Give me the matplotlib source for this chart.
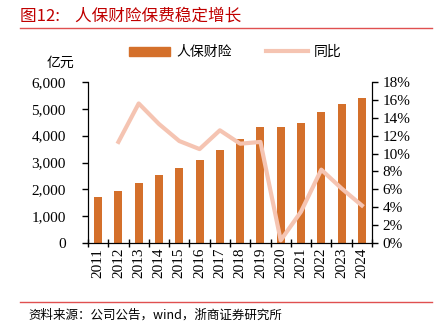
import numpy as np
import matplotlib.pyplot as plt
from matplotlib.lines import Line2D
from matplotlib.patches import Patch

plt.rcParams['font.family'] = ['Liberation Serif', 'Noto Sans CJK SC']

years = ['2011', '2012', '2013', '2014', '2015', '2016', '2017',
         '2018', '2019', '2020', '2021', '2022', '2023', '2024']
premium = [1720, 1920, 2230, 2520, 2800, 3100, 3480,
           3880, 4320, 4320, 4480, 4870, 5180, 5400]
yoy = [np.nan, 11.3, 15.6, 13.3, 11.4, 10.5, 12.6,
       11.1, 11.3, 0.3, 3.5, 8.2, 6.1, 4.2]

bar_c = '#D4702B'
line_c = '#F5C4B2'
red = '#C00000'
cjk = ['Noto Sans CJK SC', 'DejaVu Sans']

fig = plt.figure(figsize=(4.38, 3.29), dpi=100)
ax = fig.add_axes([88/438, 1-243/329, (372-88)/438, (243-82)/329])
x = np.arange(len(years))
ax.bar(x, premium, width=0.4, color=bar_c, zorder=2)
ax.set_xlim(-0.5, len(years) - 0.5)
ax.set_ylim(0, 6000)
ax.set_yticks(range(0, 6001, 1000))
ax.set_yticklabels([f'{v:,}' for v in range(0, 6001, 1000)], fontsize=11)
ax.set_xticks(x)
ax.set_xticklabels(years, rotation=90, fontsize=11)
ax.set_xticks(np.arange(-0.5, len(years)), minor=True)
ax.tick_params(axis='x', which='major', length=0)
ax.tick_params(axis='x', which='minor', length=6, direction='inout', width=1)
ax.tick_params(axis='y', length=4, width=1, pad=12)
ax.spines['top'].set_visible(False)

ax2 = ax.twinx()
ax2.plot(x, yoy, color=line_c, lw=3, zorder=3)
ax2.set_ylim(0, 18)
ax2.set_yticks(range(0, 19, 2))
ax2.set_yticklabels([f'{v}%' for v in range(0, 19, 2)], fontsize=11)
ax2.tick_params(axis='y', length=4, width=1)
ax2.spines['top'].set_visible(False)

fig.text(60/438, 1-63/329, '亿元', fontsize=10, family=cjk, ha='center', va='center')

handles = [Patch(color=bar_c), Line2D([0], [0], color=line_c, lw=3)]
fig.legend(handles, ['人保财险', '同比'], loc='center', bbox_to_anchor=(235/438, 1-52/329),
           ncol=2, frameon=False, prop={'family': cjk, 'size': 10},
           handlelength=3, handleheight=0.6, columnspacing=2.5, handletextpad=0.4)

fig.text(20/438, 1-16/329, '图12:    人保财险保费稳定增长', fontsize=12, color=red,
         family=cjk, va='center')
fig.add_artist(Line2D([20/438, 432/438], [1-28/329, 1-28/329], color='#E05050', lw=1))
fig.add_artist(Line2D([20/438, 432/438], [1-302/329, 1-302/329], color='#E05050', lw=1))
fig.text(28/438, 1-315/329, '资料来源：公司公告，wind，浙商证券研究所', fontsize=9,
         family=cjk, va='center')

fig.savefig('out.png', dpi=100)
